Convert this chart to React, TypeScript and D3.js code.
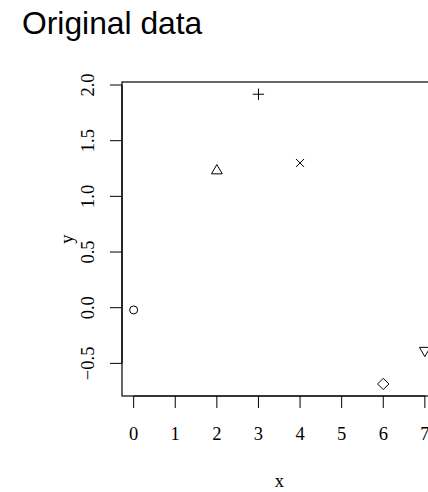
import React from "react";
import * as d3 from "d3";

// Observations: x position, y value and R-style plotting symbol (pch)
const xValues = [0, 2, 3, 4, 6, 7];
const yValues = [-0.02, 1.23, 1.917, 1.30, -0.685, -0.384];
const symbols = [1, 2, 3, 4, 5, 6];

const xTicks = [0, 1, 2, 3, 4, 5, 6, 7];
const yTicks = [-0.5, 0.0, 0.5, 1.0, 1.5, 2.0];

const W = 428;
const H = 492;
const plot = { left: 122, top: 82, right: 436.5, bottom: 396 };
const xLim: [number, number] = [-0.28, 7.28];
const yLim: [number, number] = [-0.793, 2.027];

const serif = "'Liberation Serif', 'DejaVu Serif', serif";
const sans = "'Liberation Sans', Arial, Helvetica, sans-serif";

const RAD = 4;

function symbolPath(pch: number, cx: number, cy: number): string {
  const p = d3.path();
  const TRC0 = Math.sqrt((4 * Math.PI) / (3 * Math.sqrt(3)));
  const r = TRC0 * RAD;
  const yc = r / 2;
  const xc = (r * Math.sqrt(3)) / 2;
  switch (pch) {
    case 1:
      p.moveTo(cx + RAD, cy);
      p.arc(cx, cy, RAD, 0, Math.PI * 2);
      break;
    case 2:
      p.moveTo(cx, cy - r);
      p.lineTo(cx + xc, cy + yc);
      p.lineTo(cx - xc, cy + yc);
      p.closePath();
      break;
    case 3: {
      const a = Math.SQRT2 * RAD;
      p.moveTo(cx - a, cy);
      p.lineTo(cx + a, cy);
      p.moveTo(cx, cy - a);
      p.lineTo(cx, cy + a);
      break;
    }
    case 4:
      p.moveTo(cx - RAD, cy - RAD);
      p.lineTo(cx + RAD, cy + RAD);
      p.moveTo(cx - RAD, cy + RAD);
      p.lineTo(cx + RAD, cy - RAD);
      break;
    case 5: {
      const a = Math.SQRT2 * RAD;
      p.moveTo(cx - a, cy);
      p.lineTo(cx, cy - a);
      p.lineTo(cx + a, cy);
      p.lineTo(cx, cy + a);
      p.closePath();
      break;
    }
    case 6:
      p.moveTo(cx, cy + r);
      p.lineTo(cx + xc, cy - yc);
      p.lineTo(cx - xc, cy - yc);
      p.closePath();
      break;
  }
  return p.toString();
}

export default function App() {
  const x = d3.scaleLinear().domain(xLim).range([plot.left, plot.right]);
  const y = d3.scaleLinear().domain(yLim).range([plot.bottom, plot.top]);
  const midY = (plot.top + plot.bottom) / 2;
  const midX = (plot.left + plot.right) / 2;

  return (
    <svg
      width={W}
      height={H}
      style={{ position: "absolute", left: 0, top: 0, background: "#fff" }}
    >
      <rect x={0} y={0} width={W} height={H} fill="#fff" />
      <text x={22} y={34} fontFamily={sans} fontSize={31.8} fill="#000">
        Original data
      </text>

      {/* plot frame */}
      <rect
        x={plot.left}
        y={plot.top}
        width={plot.right - plot.left}
        height={plot.bottom - plot.top}
        fill="none"
        stroke="#000"
        strokeWidth={1.2}
      />

      {/* x axis */}
      <g>
        <line
          x1={x(xTicks[0])}
          x2={x(xTicks[xTicks.length - 1])}
          y1={plot.bottom}
          y2={plot.bottom}
          stroke="#000"
          strokeWidth={1.2}
        />
        {xTicks.map((t) => (
          <g key={t}>
            <line
              x1={x(t)}
              x2={x(t)}
              y1={plot.bottom}
              y2={plot.bottom + 12}
              stroke="#000"
              strokeWidth={1}
            />
            <text
              x={x(t)}
              y={440}
              textAnchor="middle"
              fontFamily={serif}
              fontSize={18.5}
              fill="#000"
            >
              {t}
            </text>
          </g>
        ))}
        <text
          x={midX}
          y={487}
          textAnchor="middle"
          fontFamily={serif}
          fontSize={18.5}
          fill="#000"
        >
          x
        </text>
      </g>

      {/* y axis */}
      <g>
        <line
          x1={plot.left}
          x2={plot.left}
          y1={y(yTicks[0])}
          y2={y(yTicks[yTicks.length - 1])}
          stroke="#000"
          strokeWidth={1.2}
        />
        {yTicks.map((t) => (
          <g key={t}>
            <line
              x1={plot.left - 12}
              x2={plot.left}
              y1={y(t)}
              y2={y(t)}
              stroke="#000"
              strokeWidth={1}
            />
            <text
              transform={`translate(93.5,${y(t)}) rotate(-90)`}
              textAnchor="middle"
              fontFamily={serif}
              fontSize={18.5}
              fill="#000"
            >
              {t < 0 ? "\u2212" + Math.abs(t).toFixed(1) : t.toFixed(1)}
            </text>
          </g>
        ))}
        <text
          transform={`translate(73,${midY}) rotate(-90)`}
          textAnchor="middle"
          fontFamily={serif}
          fontSize={18.5}
          fill="#000"
        >
          y
        </text>
      </g>

      {/* points */}
      <g fill="none" stroke="#000" strokeWidth={1}>
        {xValues.map((xv, i) => (
          <path key={i} d={symbolPath(symbols[i], x(xv), y(yValues[i]))} />
        ))}
      </g>
    </svg>
  );
}
